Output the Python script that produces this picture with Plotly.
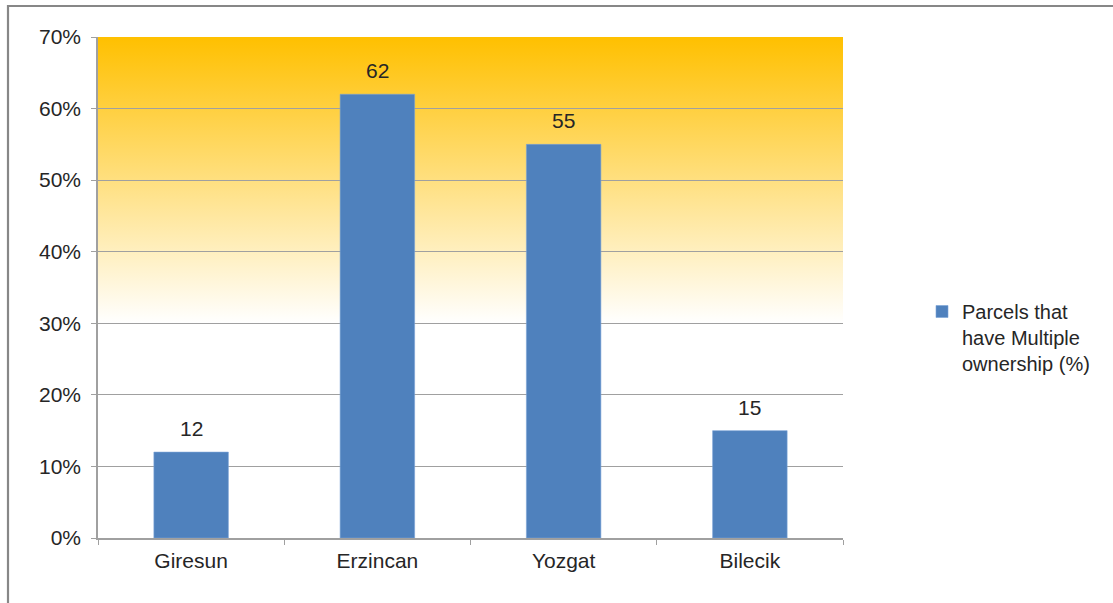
import base64
import plotly.graph_objects as go

# Share of parcels with multiple ownership, by province
provinces = ["Giresun", "Erzincan", "Yozgat", "Bilecik"]
multiple_ownership_pct = [12, 62, 55, 15]
series_name = "Parcels that<br>have Multiple<br>ownership (%)"
y_ticks = [0, 10, 20, 30, 40, 50, 60, 70]
y_tick_labels = ["0%", "10%", "20%", "30%", "40%", "50%", "60%", "70%"]

W, H = 1113, 603
L, R, T, B = 98, 270, 37, 65
FONT = "Liberation Sans, Arial, sans-serif"
TEXT = "#262626"
GRID = "#a0a0a0"
y_max = 70
fade_to = 30  # the warm background fades to white by this level

# Vertical warm gradient for the plot-area background (SVG data URI)
stop = (y_max - fade_to) / y_max
svg = (
    '<svg xmlns="http://www.w3.org/2000/svg" width="100" height="100" preserveAspectRatio="none">'
    '<defs><linearGradient id="g" x1="0" y1="0" x2="0" y2="1">'
    '<stop offset="0" stop-color="#FFC000"/>'
    f'<stop offset="{stop:.4f}" stop-color="#FFFFFF"/>'
    '<stop offset="1" stop-color="#FFFFFF"/>'
    '</linearGradient></defs>'
    '<rect width="100" height="100" fill="url(#g)"/></svg>'
)
bg_uri = "data:image/svg+xml;base64," + base64.b64encode(svg.encode()).decode()

fig = go.Figure()
fig.add_trace(go.Bar(
    x=provinces,
    y=multiple_ownership_pct,
    name=series_name,
    marker=dict(color="#4F81BD", line=dict(color="#7aa2d6", width=0.6)),
    showlegend=True,
))

# Value labels above each bar
for p, v in zip(provinces, multiple_ownership_pct):
    fig.add_annotation(
        x=p, y=v, text=str(v), showarrow=False, yanchor="bottom",
        yshift=10, font=dict(family=FONT, size=21, color=TEXT),
    )

plot_w = W - L - R
plot_h = H - T - B
# Outer frame of the chart (only the top and left edges fall in view)
fig.add_shape(
    type="rect", xref="paper", yref="paper",
    x0=(8 - L) / plot_w, x1=(W + 20 - L) / plot_w,
    y0=-(H + 20 - (H - B)) / plot_h, y1=(H - B - 6) / plot_h,
    line=dict(color="#878787", width=2.2), fillcolor="rgba(0,0,0,0)",
    layer="above",
)

fig.update_layout(
    width=W, height=H,
    margin=dict(l=L, r=R, t=T, b=B),
    paper_bgcolor="white",
    plot_bgcolor="rgba(0,0,0,0)",
    bargap=0.6,
    font=dict(family=FONT, size=21, color=TEXT),
    images=[dict(
        source=bg_uri, xref="x domain", yref="y domain",
        x=0, y=1, sizex=1, sizey=1, xanchor="left", yanchor="top",
        sizing="stretch", layer="below",
    )],
    xaxis=dict(
        type="category", showgrid=False, showline=True, linecolor=GRID,
        linewidth=1.5, ticks="outside", tickson="boundaries", ticklen=5,
        tickcolor=GRID, tickfont=dict(family=FONT, size=21, color=TEXT),
        ticklabelstandoff=3,
    ),
    yaxis=dict(
        range=[0, y_max], tickvals=y_ticks, ticktext=y_tick_labels,
        showgrid=True, gridcolor=GRID, gridwidth=1.3,
        showline=True, linecolor=GRID, linewidth=1.5,
        ticks="outside", ticklen=5, tickcolor=GRID,
        tickfont=dict(family=FONT, size=21, color=TEXT),
        ticklabelstandoff=6, zeroline=False,
    ),
    legend=dict(
        x=(922 - L) / plot_w, xanchor="left",
        y=(H - B - 292) / plot_h, yanchor="top",
        valign="top", itemwidth=30,
        font=dict(family=FONT, size=20, color=TEXT),
        bgcolor="rgba(0,0,0,0)",
    ),
)

fig.write_html("out.html")
